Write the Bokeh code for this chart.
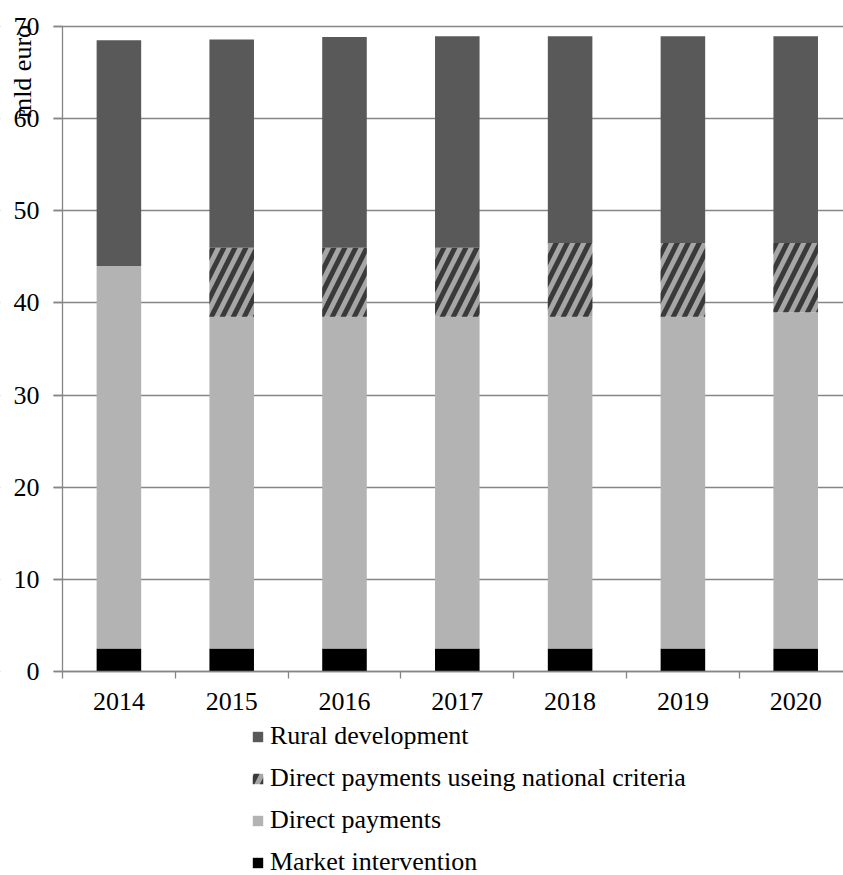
import numpy as np
from math import pi
from bokeh.plotting import figure
from bokeh.models import (ColumnDataSource, Range1d, FixedTicker, Legend, LegendItem,
                          Label, BoxAnnotation)
from bokeh.embed import file_html
from bokeh.resources import INLINE

# ---- data ----
years = ["2014", "2015", "2016", "2017", "2018", "2019", "2020"]
market_intervention = [2.5, 2.5, 2.5, 2.5, 2.5, 2.5, 2.5]
direct_payments = [41.5, 36.0, 36.0, 36.0, 36.0, 36.0, 36.5]
direct_payments_national = [0.0, 7.5, 7.5, 7.5, 8.0, 8.0, 7.5]
rural_development = [24.5, 22.6, 22.85, 22.95, 22.45, 22.45, 22.45]
y_ticks = [0, 10, 20, 30, 40, 50, 60, 70]
y_label = "mld euro"
series_names = ["Rural development", "Direct payments useing national criteria",
                "Direct payments", "Market intervention"]

FONT = "Liberation Serif"
GRID = "#868686"
C_MI, C_DP, C_DPN, C_RD = "#000000", "#b3b3b3", "#a6a6a6", "#595959"
HATCH = dict(hatch_pattern="right_diagonal_line", hatch_color="#3a3a3a", hatch_weight=5, hatch_scale=22)

x = np.arange(len(years))
mi = np.array(market_intervention)
dp = np.array(direct_payments)
dpn = np.array(direct_payments_national)
rd = np.array(rural_development)
b1 = mi
b2 = b1 + dp
b3 = b2 + dpn
b4 = b3 + rd

src = ColumnDataSource(dict(x=x, z=np.zeros(len(x)), b1=b1, b2=b2, b3=b3, b4=b4))

# ---- layout geometry (pixels) ----
WIDTH, HEIGHT = 843, 875
PLOT_LEFT, PLOT_TOP, PLOT_BOTTOM = 62, 26, 671
UNIT = 112.8                                  # px per category
YMAX = y_ticks[-1]
PXY = (PLOT_BOTTOM - PLOT_TOP) / YMAX         # px per value unit
AX_LEFT = -0.5
X0 = AX_LEFT - PLOT_LEFT / UNIT
X1 = X0 + WIDTH / UNIT
Y1 = YMAX + PLOT_TOP / PXY
Y0 = -(HEIGHT - PLOT_BOTTOM) / PXY

p = figure(width=WIDTH, height=HEIGHT, x_range=Range1d(X0, X1), y_range=Range1d(Y0, Y1),
           output_backend="svg", toolbar_location=None,
           min_border_left=0, min_border_right=0, min_border_top=0, min_border_bottom=0)
p.outline_line_color = None
p.background_fill_color = "white"

# grid
p.xgrid.visible = False
p.ygrid.ticker = FixedTicker(ticks=y_ticks)
p.ygrid.grid_line_color = GRID
p.ygrid.grid_line_width = 1.3
p.ygrid.level = "underlay"
p.add_layout(BoxAnnotation(left=X0, right=AX_LEFT - 9 / UNIT, fill_color="white", fill_alpha=1.0,
                           line_color=None, level="underlay"))

W = 0.395
p.vbar(x="x", bottom="z", top="b1", width=W, source=src, fill_color=C_MI, line_color=None)
p.vbar(x="x", bottom="b1", top="b2", width=W, source=src, fill_color=C_DP, line_color=None)
r_dpn = p.vbar(x="x", bottom="b2", top="b3", width=W, source=src, fill_color=C_DPN,
               line_color=None, **HATCH)
p.vbar(x="x", bottom="b3", top="b4", width=W, source=src, fill_color=C_RD, line_color=None)

# x axis (at value 0)
p.xaxis.fixed_location = 0
p.xaxis.bounds = (AX_LEFT, X1)
p.xaxis.ticker = FixedTicker(ticks=list(x), minor_ticks=[i - 0.5 for i in range(len(years) + 1)])
p.xaxis.major_label_overrides = {int(i): yr for i, yr in zip(x, years)}
p.xaxis.major_tick_line_color = None
p.xaxis.major_tick_out = 7
p.xaxis.major_tick_in = 0
p.xaxis.minor_tick_out = 7
p.xaxis.minor_tick_in = 0
p.xaxis.minor_tick_line_color = GRID
p.xaxis.minor_tick_line_width = 1.3
p.xaxis.axis_line_color = GRID
p.xaxis.axis_line_width = 1.3
p.xaxis.major_label_standoff = 14
p.xaxis.major_label_text_font = FONT
p.xaxis.major_label_text_font_size = "26px"
p.xaxis.major_label_text_color = "black"

# y axis (at the first category boundary)
p.yaxis.fixed_location = AX_LEFT
p.yaxis.bounds = (0, YMAX)
p.yaxis.ticker = FixedTicker(ticks=y_ticks)
p.yaxis.major_tick_out = 9
p.yaxis.major_tick_in = 0
p.yaxis.major_tick_line_color = GRID
p.yaxis.major_tick_line_width = 1.3
p.yaxis.minor_tick_line_color = None
p.yaxis.axis_line_color = GRID
p.yaxis.axis_line_width = 1.3
p.yaxis.major_label_standoff = 14
p.yaxis.major_label_text_font = FONT
p.yaxis.major_label_text_font_size = "26px"
p.yaxis.major_label_text_color = "black"

p.add_layout(Label(x=AX_LEFT - 40 / UNIT, y=YMAX - (71 - PLOT_TOP) / PXY, text=y_label,
                   angle=pi / 2, text_align="center", text_baseline="middle",
                   text_font=FONT, text_font_size="26px", text_color="black"))

# ---- legend (below the axis) ----
renders = {r.glyph.fill_color: r for r in p.renderers if hasattr(r, "glyph")}
items = [LegendItem(label=series_names[0], renderers=[renders[C_RD]]),
         LegendItem(label=series_names[1], renderers=[r_dpn]),
         LegendItem(label=series_names[2], renderers=[renders[C_DP]]),
         LegendItem(label=series_names[3], renderers=[renders[C_MI]])]
legend = Legend(items=items, location=(251, -2), orientation="vertical",
                glyph_width=13, glyph_height=13, label_standoff=6, label_height=30,
                spacing=12, padding=0, margin=0,
                label_text_font=FONT, label_text_font_size="26px", label_text_color="black",
                border_line_color=None, background_fill_alpha=0)
p.add_layout(legend)

open("out.html", "w").write(file_html(p, INLINE))
